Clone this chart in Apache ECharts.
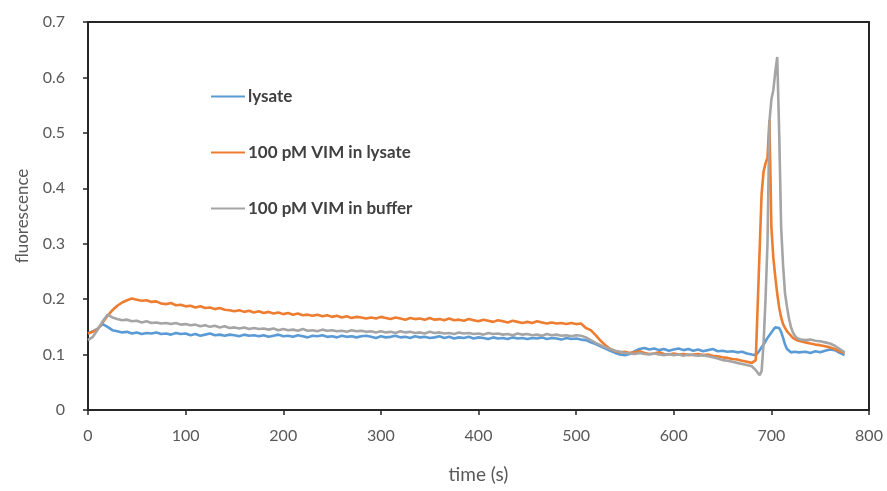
<!DOCTYPE html>
<html>
<head>
<meta charset="utf-8">
<script src="https://cdn.jsdelivr.net/npm/echarts@6/dist/echarts.min.js"></script>
<style>
html,body{margin:0;padding:0;background:#fff;}
#chart{width:887px;height:491px;}
</style>
</head>
<body>
<div id="chart"></div>
<script>
// time points (s)
var timeA = [0,5,10,15,20,25,30,35,40,45,50,55,60,65,70,75,80,85,90,95,100,105,110,115,120,125,130,135,140,145,150,155,160,165,170,175,180,185,190,195,200,205,210,215,220,225,230,235,240,245,250,255,260,265,270,275,280,285,290,295,300,305,310,315,320,325,330,335,340,345,350,355,360,365,370,375,380,385,390,395,400,405,410,415,420,425,430,435,440,445,450,455,460,465,470,475,480,485,490,495,500,505,510,515,520,525,530,535,540,545,550,555,560,565,570,575,580,585,590,595,600,605,610,615,620,625,630,635,640,645,650,655,660,665,670,675];
var timeB = [680,682,684,686,688,690,692,694,696,698,700,702,704,706,708,710,712,714,716,718,720,722,724,726,728,730,735,740,745,750,755,760,765,770,775];
var timeS = timeA.concat(timeB);

var lysate = [0.138,0.142,0.147,0.155,0.150,0.144,0.142,0.140,0.141,0.138,0.140,0.137,0.139,0.138,0.140,0.137,0.138,0.136,0.139,0.137,0.138,0.135,0.137,0.134,0.136,0.138,0.135,0.136,0.134,0.136,0.135,0.133,0.136,0.134,0.135,0.133,0.135,0.132,0.134,0.136,0.133,0.134,0.132,0.135,0.133,0.131,0.134,0.133,0.135,0.132,0.133,0.131,0.134,0.132,0.133,0.131,0.133,0.134,0.132,0.130,0.133,0.131,0.132,0.134,0.131,0.132,0.130,0.133,0.131,0.132,0.130,0.131,0.133,0.130,0.132,0.129,0.131,0.130,0.132,0.129,0.131,0.130,0.128,0.131,0.129,0.130,0.128,0.131,0.129,0.130,0.128,0.130,0.129,0.131,0.128,0.130,0.129,0.127,0.130,0.128,0.129,0.127,0.126,0.122,0.119,0.115,0.111,0.107,0.103,0.100,0.099,0.101,0.106,0.110,0.112,0.109,0.111,0.108,0.110,0.107,0.109,0.111,0.108,0.110,0.107,0.109,0.106,0.108,0.110,0.106,0.107,0.105,0.106,0.104,0.105,0.102,
 0.100,0.098,0.099,0.103,0.108,0.113,0.118,0.124,0.130,0.135,0.140,0.145,0.149,0.150,0.148,0.141,0.130,0.118,0.110,0.107,0.104,0.103,0.105,0.102,0.104,0.103,0.105,0.103,0.106,0.104,0.107,0.109,0.108,0.103,0.099];

var vimLysate = [0.138,0.141,0.146,0.158,0.170,0.180,0.188,0.194,0.198,0.201,0.199,0.197,0.198,0.195,0.196,0.192,0.191,0.193,0.189,0.190,0.187,0.188,0.185,0.187,0.184,0.185,0.182,0.184,0.181,0.180,0.178,0.180,0.177,0.179,0.176,0.178,0.175,0.177,0.174,0.176,0.173,0.175,0.172,0.174,0.171,0.172,0.170,0.172,0.169,0.171,0.168,0.170,0.167,0.169,0.166,0.168,0.167,0.165,0.167,0.165,0.168,0.166,0.164,0.167,0.165,0.163,0.166,0.164,0.165,0.163,0.166,0.163,0.164,0.162,0.165,0.162,0.163,0.161,0.164,0.162,0.160,0.163,0.161,0.159,0.162,0.160,0.158,0.161,0.159,0.157,0.159,0.157,0.160,0.158,0.156,0.158,0.156,0.157,0.155,0.157,0.155,0.156,0.148,0.144,0.135,0.125,0.117,0.110,0.106,0.104,0.105,0.103,0.104,0.106,0.103,0.101,0.102,0.104,0.101,0.100,0.102,0.100,0.101,0.099,0.100,0.101,0.099,0.100,0.098,0.097,0.095,0.094,0.092,0.091,0.089,0.087,
 0.085,0.084,0.090,0.190,0.290,0.390,0.430,0.445,0.455,0.523,0.330,0.275,0.240,0.210,0.185,0.167,0.155,0.148,0.142,0.138,0.134,0.130,0.128,0.126,0.125,0.124,0.122,0.120,0.118,0.117,0.115,0.113,0.110,0.106,0.103];

var vimBuffer = [0.126,0.132,0.145,0.160,0.172,0.167,0.164,0.162,0.163,0.160,0.161,0.158,0.160,0.157,0.158,0.156,0.157,0.155,0.157,0.154,0.155,0.153,0.154,0.151,0.153,0.150,0.152,0.149,0.151,0.148,0.149,0.147,0.149,0.146,0.148,0.146,0.147,0.145,0.147,0.144,0.146,0.144,0.145,0.143,0.146,0.143,0.144,0.142,0.145,0.143,0.144,0.142,0.143,0.141,0.144,0.142,0.143,0.141,0.142,0.140,0.142,0.140,0.141,0.139,0.142,0.140,0.141,0.139,0.140,0.138,0.141,0.139,0.140,0.138,0.139,0.137,0.140,0.138,0.139,0.137,0.138,0.136,0.139,0.137,0.138,0.136,0.137,0.135,0.138,0.136,0.137,0.135,0.136,0.134,0.137,0.135,0.136,0.134,0.135,0.133,0.135,0.134,0.131,0.126,0.121,0.117,0.113,0.110,0.107,0.105,0.103,0.102,0.101,0.103,0.101,0.100,0.102,0.100,0.099,0.101,0.099,0.100,0.098,0.100,0.099,0.098,0.099,0.097,0.095,0.093,0.090,0.089,0.087,0.085,0.083,0.081,
 0.079,0.076,0.072,0.067,0.063,0.070,0.120,0.200,0.300,0.520,0.560,0.577,0.610,0.637,0.500,0.330,0.260,0.210,0.186,0.165,0.150,0.140,0.134,0.130,0.128,0.127,0.126,0.127,0.125,0.124,0.122,0.120,0.116,0.110,0.104];

var seriesNames = ['lysate','100 pM VIM in lysate','100 pM VIM in buffer'];
var seriesColors = ['#5B9BD5','#ED7D31','#A5A5A5'];
var xTicks = [0,100,200,300,400,500,600,700,800];
var yTicks = [0,0.1,0.2,0.3,0.4,0.5,0.6,0.7];

function pairs(vals){ return timeS.map(function(t,i){ return [t, vals[i]]; }); }
var allVals = [lysate, vimLysate, vimBuffer];

var chart = echarts.init(document.getElementById('chart'), null, {renderer:'canvas'});
var font = 'Lato, "Open Sans", sans-serif';
var axisColor = '#262626';
var xMin = xTicks[0], xMax = xTicks[xTicks.length-1];
var yMin = yTicks[0], yMax = yTicks[yTicks.length-1];
chart.setOption({
  animation:false,
  backgroundColor:'#fff',
  grid:{left:88,right:18,top:22,bottom:81,show:false},
  legend:{
    orient:'vertical', left:206, top:83, itemGap:39,
    itemWidth:34, itemHeight:2, icon:'rect',
    textStyle:{fontFamily:font,fontSize:17,fontWeight:'bold',color:'#404040',padding:[0,0,0,-2]},
    data:seriesNames
  },
  xAxis:[{
    type:'value', min:xMin, max:xMax, interval:100,
    name:'time (s)', nameLocation:'middle', nameGap:55,
    nameTextStyle:{fontFamily:font,fontSize:19,color:'#595959'},
    axisLine:{lineStyle:{color:axisColor,width:2}},
    axisTick:{show:true,length:5,lineStyle:{color:axisColor,width:1.5}},
    axisLabel:{fontFamily:font,fontSize:16,color:'#595959',margin:18},
    splitLine:{show:false}
  },{
    type:'value', position:'top', min:xMin, max:xMax, interval:100,
    axisLine:{show:true,onZero:false,lineStyle:{color:axisColor,width:2}},
    axisTick:{show:false}, axisLabel:{show:false}, splitLine:{show:false}
  }],
  yAxis:[{
    type:'value', min:yMin, max:yMax, interval:0.1,
    name:'fluorescence', nameLocation:'middle', nameGap:57,
    nameTextStyle:{fontFamily:font,fontSize:17,color:'#595959'},
    axisLine:{show:true,lineStyle:{color:axisColor,width:2}},
    axisTick:{show:true,length:5,lineStyle:{color:axisColor,width:1.5}},
    axisLabel:{fontFamily:font,fontSize:16,color:'#595959',margin:23,
      formatter:function(v){ return v===0?'0':v.toFixed(1); }},
    splitLine:{show:false}
  },{
    type:'value', position:'right', min:yMin, max:yMax, interval:0.1,
    axisLine:{show:true,onZero:false,lineStyle:{color:axisColor,width:2}},
    axisTick:{show:false}, axisLabel:{show:false}, splitLine:{show:false}
  }],
  series: seriesNames.map(function(n,i){
    return {name:n,type:'line',data:pairs(allVals[i]),showSymbol:false,symbol:'none',
      xAxisIndex:0,yAxisIndex:0,
      lineStyle:{color:seriesColors[i],width:2.6},itemStyle:{color:seriesColors[i]}};
  })
});
</script>
</body>
</html>
